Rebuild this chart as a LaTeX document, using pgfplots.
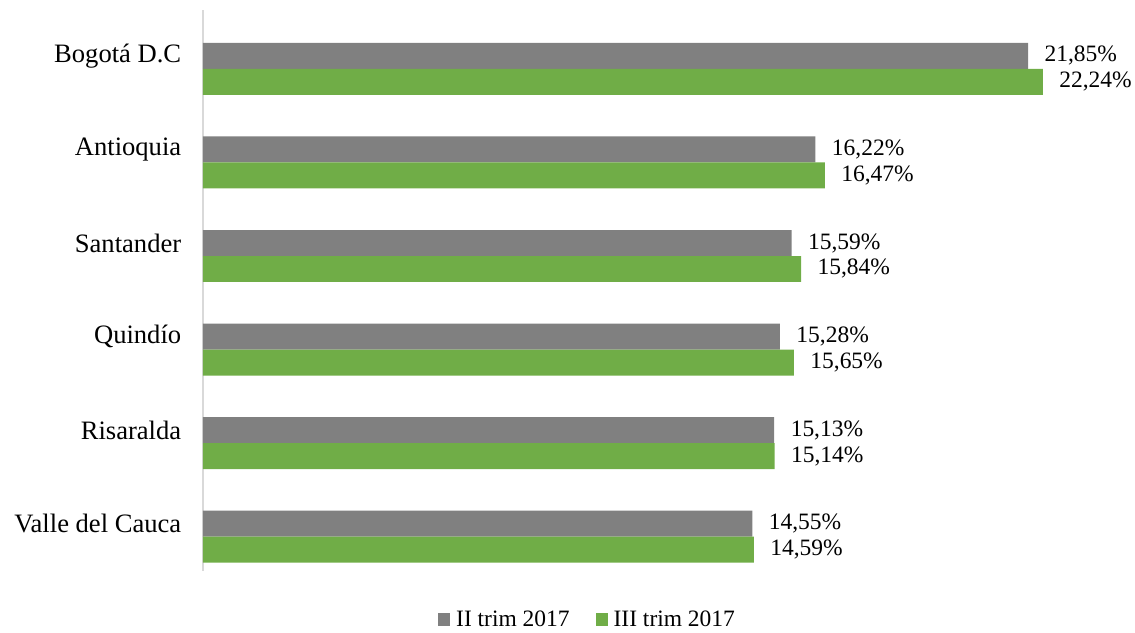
\documentclass[border=0pt]{standalone}
\usepackage{pgfplots}
\pgfplotsset{compat=1.18}
\usepackage{fontspec}
\setmainfont{Liberation Serif}
\definecolor{gbar}{HTML}{808080}
\definecolor{vbar}{HTML}{70AD47}
\definecolor{axl}{HTML}{D9D9D9}
\newcommand{\fs}{\fontsize{23.5}{28}\selectfont}
\newcommand{\fl}{\fontsize{26.6}{31}\selectfont}
\begin{document}
\begin{tikzpicture}
\begin{axis}[
  scale only axis,
  width=907pt, height=561pt,
  xbar, bar width=26pt,
  xmin=0, xmax=24,
  ymin=-0.363, ymax=5.63,
  axis x line=none,
  axis y line=left,
  y axis line style={-, draw=axl, line width=1.5pt},
  ytick={0,1,2,3,4,5},
  yticklabels={Valle del Cauca, Risaralda, Quindío, Santander, Antioquia, Bogotá D.C},
  ytick style={draw=none},
  yticklabel style={font=\fl, xshift=-16pt, yshift=13pt},
  /pgf/number format/assume math mode=true,
  nodes near coords={\pgfmathprintnumber[fixed,fixed zerofill,precision=2,use comma]{\pgfplotspointmeta}\%},
  every node near coord/.append style={font=\fs, xshift=13pt, text=black},
  legend style={draw=none, font=\fs, at={(0.4245,-0.0873)}, anchor=center, legend columns=2,
    /tikz/every even column/.append style={column sep=24pt}},
  legend image code/.code={\fill[#1] (0pt,-6.5pt) rectangle (12pt,6.5pt); \path (16pt,0pt);},
]
\addplot[fill=gbar, draw=none, bar shift=13pt] coordinates {
  (14.55,0) (15.13,1) (15.28,2) (15.59,3) (16.22,4) (21.85,5)};
\addlegendentry{II trim 2017}
\addplot[fill=vbar, draw=none, bar shift=-13pt] coordinates {
  (14.59,0) (15.14,1) (15.65,2) (15.84,3) (16.47,4) (22.24,5)};
\addlegendentry{III trim 2017}
\end{axis}
\path (0,0) ++(-203pt,-61pt) rectangle ++(1135pt,632pt);
\end{tikzpicture}
\end{document}
